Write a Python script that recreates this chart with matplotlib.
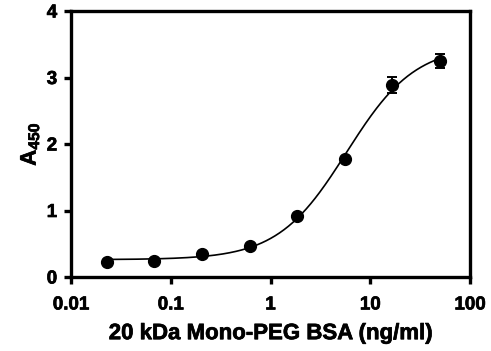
import numpy as np
import matplotlib
matplotlib.use("Agg")
import matplotlib.pyplot as plt
import matplotlib.patheffects as pe

plt.rcParams['font.family'] = ['Liberation Sans', 'DejaVu Sans']
plt.rcParams['font.weight'] = 'bold'
plt.rcParams['mathtext.fontset'] = 'custom'
plt.rcParams['mathtext.rm'] = 'Liberation Sans:bold'
plt.rcParams['mathtext.bf'] = 'Liberation Sans:bold'
plt.rcParams['mathtext.it'] = 'Liberation Sans:bold'

# Data
conc = [0.0229, 0.0686, 0.206, 0.617, 1.85, 5.56, 16.7, 50.0]
absorbance = [0.23, 0.245, 0.34, 0.47, 0.91, 1.77, 2.89, 3.25]
err = [0.0, 0.0, 0.0, 0.0, 0.0, 0.0, 0.12, 0.11]
x_ticks = [0.01, 0.1, 1, 10, 100]
x_ticklabels = ['0.01', '0.1', '1', '10', '100']
y_ticks = [0, 1, 2, 3, 4]

x = np.array(conc)
y = np.array(absorbance)

# 4PL fit: grid search over EC50 & Hill, linear solve for bottom/top
best = None
for lec in np.linspace(np.log10(0.5), np.log10(50), 300):
    for h in np.linspace(0.5, 2.5, 201):
        f = 1.0 / (1.0 + (10**lec / x) ** h)
        A = np.vstack([1 - f, f]).T
        coef, *_ = np.linalg.lstsq(A, y, rcond=None)
        r = np.sum((A @ coef - y) ** 2)
        if best is None or r < best[0]:
            best = (r, lec, h, coef)
_, lec, h, (bottom, top) = best

xs = np.logspace(np.log10(x.min()), np.log10(x.max()), 300)
ys = bottom + (top - bottom) / (1.0 + (10**lec / xs) ** h)

fig = plt.figure(figsize=(4.91, 3.51), dpi=100)
ax = fig.add_axes([71/491, 1 - 277/351, (470-71)/491, (277-11)/351])
ax.set_xscale('log')
ax.plot(xs, ys, color='black', lw=1.2, zorder=2)
ax.errorbar(x, y, yerr=err, fmt='o', color='black', ms=8.5, capsize=3.8,
            elinewidth=1.4, capthick=1.4, zorder=3)
ax.set_xlim(0.01, 100)
ax.set_ylim(0, 4)
ax.set_xticks(x_ticks)
ax.set_xticklabels(x_ticklabels)
ax.set_yticks(y_ticks)
ax.xaxis.set_minor_locator(matplotlib.ticker.NullLocator())
for s in ax.spines.values():
    s.set_linewidth(2.4)
ax.tick_params(axis='both', which='major', width=2.4, length=5, labelsize=13.5)
ax.tick_params(axis='x', pad=9)
ax.tick_params(axis='y', pad=5)
stroke = [pe.withStroke(linewidth=0.5, foreground='black')]
for lab in ax.get_xticklabels() + ax.get_yticklabels():
    lab.set_fontweight('bold')
    lab.set_path_effects(stroke)
ax.set_xlabel('20 kDa Mono-PEG BSA (ng/ml)', fontsize=16, fontweight='bold', labelpad=7,
              path_effects=stroke)
ax.set_ylabel(r'$\mathbf{A}_{\mathbf{450}}$', fontsize=16, labelpad=4, path_effects=stroke)

fig.savefig('out.png', dpi=100)
